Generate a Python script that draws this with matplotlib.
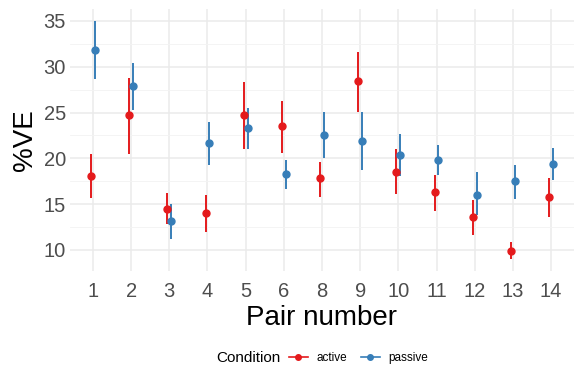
import numpy as np
import matplotlib.pyplot as plt
from matplotlib.lines import Line2D
from matplotlib.offsetbox import HPacker

pairs = ["1", "2", "3", "4", "5", "6", "8", "9", "10", "11", "12", "13", "14"]

active_mean = [18.1, 24.7, 14.5, 14.0, 24.7, 23.5, 17.8, 28.4, 18.5, 16.3, 13.6, 9.9, 15.8]
active_lo = [15.7, 20.5, 12.8, 12.0, 21.0, 20.6, 15.8, 25.1, 16.1, 14.3, 11.6, 9.0, 13.6]
active_hi = [20.5, 28.8, 16.2, 16.0, 28.3, 26.3, 19.6, 31.6, 21.0, 18.2, 15.5, 10.9, 17.8]

passive_mean = [31.8, 27.9, 13.2, 21.7, 23.3, 18.3, 22.6, 21.9, 20.4, 19.8, 16.0, 17.5, 19.4]
passive_lo = [28.7, 25.3, 11.2, 19.3, 21.0, 16.7, 20.0, 18.7, 18.1, 18.2, 13.8, 15.6, 17.6]
passive_hi = [35.0, 30.4, 15.0, 24.0, 25.5, 19.8, 25.1, 25.1, 22.7, 21.4, 18.5, 19.3, 21.1]

red = "#E41A1C"
blue = "#377EB8"


def main():
    plt.rcParams['font.family'] = ['Liberation Sans', 'DejaVu Sans']
    fig = plt.figure(figsize=(5.74, 3.68), dpi=100)
    ax = fig.add_axes([70 / 574, 97 / 368, 504 / 574, 262 / 368])

    x = np.arange(len(pairs))
    dodge = 0.05
    for means, lo, hi, col, off in [(active_mean, active_lo, active_hi, red, -dodge),
                                    (passive_mean, passive_lo, passive_hi, blue, dodge)]:
        xs = x + off
        ax.vlines(xs, lo, hi, color=col, lw=1.4, zorder=3)
        ax.plot(xs, means, "o", color=col, ms=5, zorder=4)

    ax.set_xlim(-0.6, len(pairs) - 0.4)
    ax.set_ylim(7.7, 36.3)
    ax.set_xticks(x)
    ax.set_xticklabels(pairs)
    ax.set_yticks([10, 15, 20, 25, 30, 35])
    ax.set_yticks([12.5, 17.5, 22.5, 27.5, 32.5], minor=True)
    ax.grid(True, which="major", color="#EBEBEB", lw=1.1)
    ax.grid(True, which="minor", axis="y", color="#F3F3F3", lw=0.6)
    ax.set_axisbelow(True)
    for s in ax.spines.values():
        s.set_visible(False)
    ax.tick_params(which="both", length=0, labelsize=14.5, labelcolor="#4D4D4D", pad=3)
    ax.tick_params(axis="x", pad=8)

    ax.set_xlabel("Pair number", fontsize=20, labelpad=3)
    ax.set_ylabel("%VE", fontsize=20, labelpad=4)

    handles = [Line2D([], [], color=red, marker="o", ms=4, lw=1.2),
               Line2D([], [], color=blue, marker="o", ms=4, lw=1.2)]
    fig.legend(handles, ["active", "passive"], loc="lower center", ncol=2,
               bbox_to_anchor=(322 / 574, -0.02), frameon=False, fontsize=8.5,
               title="Condition", handlelength=1.6, columnspacing=1.2,
               handletextpad=0.7)
    leg = fig.legends[0]
    leg.get_title().set_fontsize(11)
    # put the title on the same row as the keys
    box = leg._legend_box
    box.__class__ = HPacker
    box.sep = 6
    box.align = "center"

    fig.savefig("out.png", dpi=100)


if __name__ == "__main__":
    main()
